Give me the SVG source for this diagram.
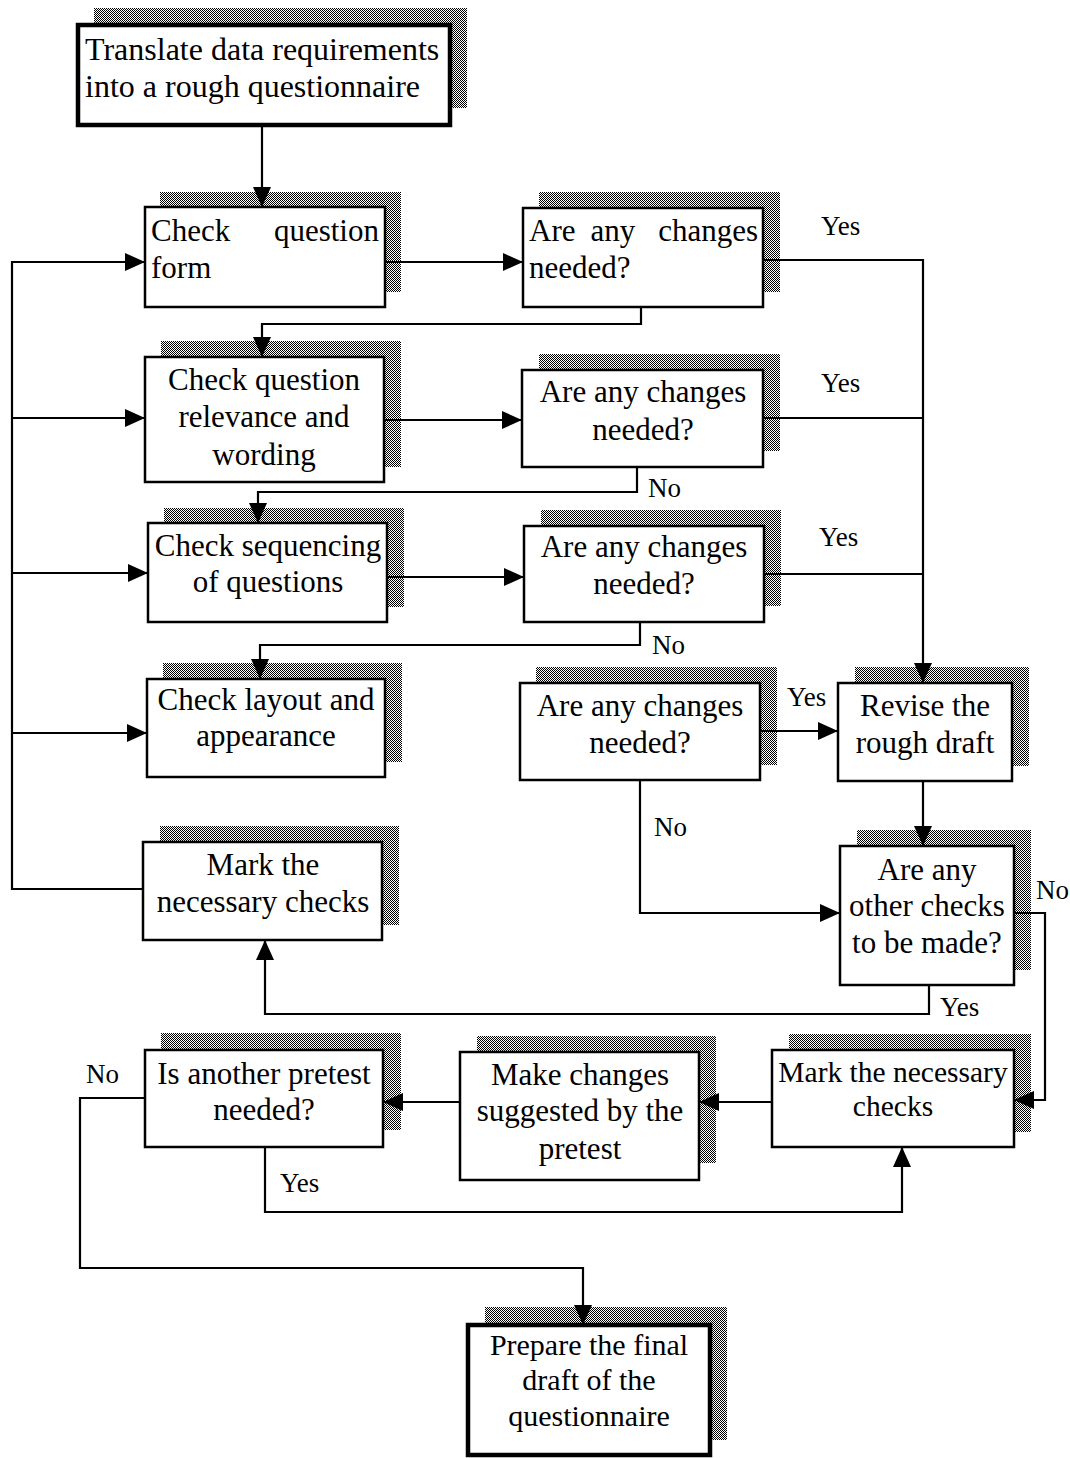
<svg xmlns="http://www.w3.org/2000/svg" width="1070" height="1458" viewBox="0 0 1070 1458">
  <defs>
    <!-- dithered drop shadow -->
    <pattern id="dither" width="2" height="2" patternUnits="userSpaceOnUse">
      <rect width="2" height="2" fill="#fff"/>
      <rect width="1" height="1" fill="#000"/>
      <rect x="1" y="1" width="1" height="1" fill="#000"/>
    </pattern>
    <marker id="arrow" markerWidth="20" markerHeight="18" refX="20" refY="9" orient="auto" markerUnits="userSpaceOnUse">
      <path d="M0,0 L20,9 L0,18 Z" fill="#000"/>
    </marker>
    <style>
      .shadow { fill: url(#dither); }
      .box { fill: #fff; stroke: #000; stroke-width: 2.5; }
      .box.thick { stroke-width: 4.5; }
      text { font-family: "Liberation Serif", "Times New Roman", serif; font-size: 31px; fill: #000; }
      .c { text-anchor: middle; }
      .e { text-anchor: end; }
      .lbl { font-size: 27px; }
      .wire { fill: none; stroke: #000; stroke-width: 2.2; }
      .head { marker-end: url(#arrow); }
    </style>
  </defs>

  <rect width="1070" height="1458" fill="#fff"/>

  <!-- process and decision boxes -->
  <g id="translate">
    <rect class="shadow" x="94" y="8" width="373" height="100"/>
    <rect class="box thick" x="78" y="25" width="372" height="100"/>
    <text x="85" y="60" style="font-size:32px">Translate data requirements</text>
    <text x="85" y="97" style="font-size:32px">into a rough questionnaire</text>
  </g>

  <g id="check-form">
    <rect class="shadow" x="160" y="192" width="241" height="100"/>
    <rect class="box" x="145" y="207" width="240" height="100"/>
    <text x="151" y="241">Check</text>
    <text class="e" x="379" y="241">question</text>
    <text x="151" y="278">form</text>
  </g>

  <g id="changes-1">
    <rect class="shadow" x="539" y="192" width="241" height="100"/>
    <rect class="box" x="523" y="208" width="240" height="99"/>
    <text x="529" y="241">Are</text>
    <text class="c" x="613" y="241">any</text>
    <text class="e" x="758" y="241">changes</text>
    <text x="529" y="278">needed?</text>
  </g>

  <g id="check-relevance">
    <rect class="shadow" x="161" y="341" width="240" height="126"/>
    <rect class="box" x="145" y="357" width="239" height="125"/>
    <text class="c" x="264" y="390">Check question</text>
    <text class="c" x="264" y="427">relevance and</text>
    <text class="c" x="264" y="465">wording</text>
  </g>

  <g id="changes-2">
    <rect class="shadow" x="539" y="354" width="241" height="97"/>
    <rect class="box" x="522" y="370" width="241" height="97"/>
    <text class="c" x="643" y="402">Are any changes</text>
    <text class="c" x="643" y="440">needed?</text>
  </g>

  <g id="check-sequencing">
    <rect class="shadow" x="164" y="508" width="240" height="99"/>
    <rect class="box" x="148" y="523" width="239" height="99"/>
    <text class="c" x="268" y="556">Check sequencing</text>
    <text class="c" x="268" y="592">of questions</text>
  </g>

  <g id="changes-3">
    <rect class="shadow" x="541" y="510" width="240" height="96"/>
    <rect class="box" x="524" y="526" width="240" height="96"/>
    <text class="c" x="644" y="557">Are any changes</text>
    <text class="c" x="644" y="594">needed?</text>
  </g>

  <g id="check-layout">
    <rect class="shadow" x="163" y="663" width="239" height="99"/>
    <rect class="box" x="147" y="679" width="238" height="98"/>
    <text class="c" x="266" y="710">Check layout and</text>
    <text class="c" x="266" y="746">appearance</text>
  </g>

  <g id="changes-4">
    <rect class="shadow" x="536" y="667" width="241" height="98"/>
    <rect class="box" x="520" y="683" width="240" height="97"/>
    <text class="c" x="640" y="716">Are any changes</text>
    <text class="c" x="640" y="753">needed?</text>
  </g>

  <g id="revise-draft">
    <rect class="shadow" x="855" y="667" width="174" height="99"/>
    <rect class="box" x="838" y="683" width="174" height="98"/>
    <text class="c" x="925" y="716">Revise the</text>
    <text class="c" x="925" y="753">rough draft</text>
  </g>

  <g id="other-checks">
    <rect class="shadow" x="857" y="830" width="174" height="140"/>
    <rect class="box" x="840" y="846" width="174" height="139"/>
    <text class="c" x="927" y="880">Are any</text>
    <text class="c" x="927" y="916">other checks</text>
    <text class="c" x="927" y="953">to be made?</text>
  </g>

  <g id="mark-checks-left">
    <rect class="shadow" x="160" y="826" width="239" height="99"/>
    <rect class="box" x="143" y="842" width="239" height="98"/>
    <text class="c" x="263" y="875">Mark the</text>
    <text class="c" x="263" y="912">necessary checks</text>
  </g>

  <g id="another-pretest">
    <rect class="shadow" x="161" y="1033" width="240" height="97"/>
    <rect class="box" x="145" y="1050" width="238" height="97"/>
    <text class="c" x="264" y="1084">Is another pretest</text>
    <text class="c" x="264" y="1120">needed?</text>
  </g>

  <g id="make-changes">
    <rect class="shadow" x="477" y="1036" width="239" height="127"/>
    <rect class="box" x="460" y="1052" width="239" height="128"/>
    <text class="c" x="580" y="1085">Make changes</text>
    <text class="c" x="580" y="1121">suggested by the</text>
    <text class="c" x="580" y="1159">pretest</text>
  </g>

  <g id="mark-checks-right">
    <rect class="shadow" x="789" y="1034" width="242" height="98"/>
    <rect class="box" x="772" y="1050" width="242" height="97"/>
    <text class="c" x="893" y="1082" style="font-size:29.5px">Mark the necessary</text>
    <text class="c" x="893" y="1116" style="font-size:29.5px">checks</text>
  </g>

  <g id="final-draft">
    <rect class="shadow" x="485" y="1307" width="242" height="133"/>
    <rect class="box thick" x="468" y="1325" width="242" height="130"/>
    <text class="c" x="589" y="1355" style="font-size:30px">Prepare the final</text>
    <text class="c" x="589" y="1390" style="font-size:30px">draft of the</text>
    <text class="c" x="589" y="1426" style="font-size:30px">questionnaire</text>
  </g>

  <!-- connectors -->
  <g id="connectors">
    <path class="wire head" d="M262,125 V207"/>
    <path class="wire head" d="M385,262 H523"/>
    <path class="wire head" d="M763,260 H923 V683"/>
    <path class="wire head" d="M641,307 V324 H262 V357"/>
    <path class="wire head" d="M384,420 H522"/>
    <path class="wire" d="M763,418 H923"/>
    <path class="wire head" d="M637,467 V492 H258 V523"/>
    <path class="wire head" d="M387,577 H524"/>
    <path class="wire" d="M764,574 H923"/>
    <path class="wire head" d="M640,622 V645 H260 V679"/>
    <path class="wire head" d="M760,731 H838"/>
    <path class="wire head" d="M640,780 V913 H840"/>
    <path class="wire head" d="M923,781 V846"/>
    <path class="wire head" d="M929,985 V1014 H265 V940"/>
    <path class="wire head" d="M1014,913 H1045 V1100 H1014"/>
    <!-- loop back to the check steps -->
    <path class="wire head" d="M143,889 H12 V262 H145"/>
    <path class="wire head" d="M12,418 H145"/>
    <path class="wire head" d="M12,573 H148"/>
    <path class="wire head" d="M12,733 H147"/>
    <path class="wire head" d="M772,1102 H699"/>
    <path class="wire head" d="M460,1102 H383"/>
    <path class="wire head" d="M265,1147 V1212 H902 V1147"/>
    <path class="wire head" d="M145,1098 H80 V1268 H583 V1325"/>

    <text class="lbl" x="821" y="235">Yes</text>
    <text class="lbl" x="821" y="392">Yes</text>
    <text class="lbl" x="819" y="546">Yes</text>
    <text class="lbl" x="648" y="497">No</text>
    <text class="lbl" x="652" y="654">No</text>
    <text class="lbl" x="787" y="706">Yes</text>
    <text class="lbl" x="654" y="836">No</text>
    <text class="lbl" x="1036" y="899">No</text>
    <text class="lbl" x="940" y="1016">Yes</text>
    <text class="lbl" x="86" y="1083">No</text>
    <text class="lbl" x="280" y="1192">Yes</text>
  </g>
</svg>
